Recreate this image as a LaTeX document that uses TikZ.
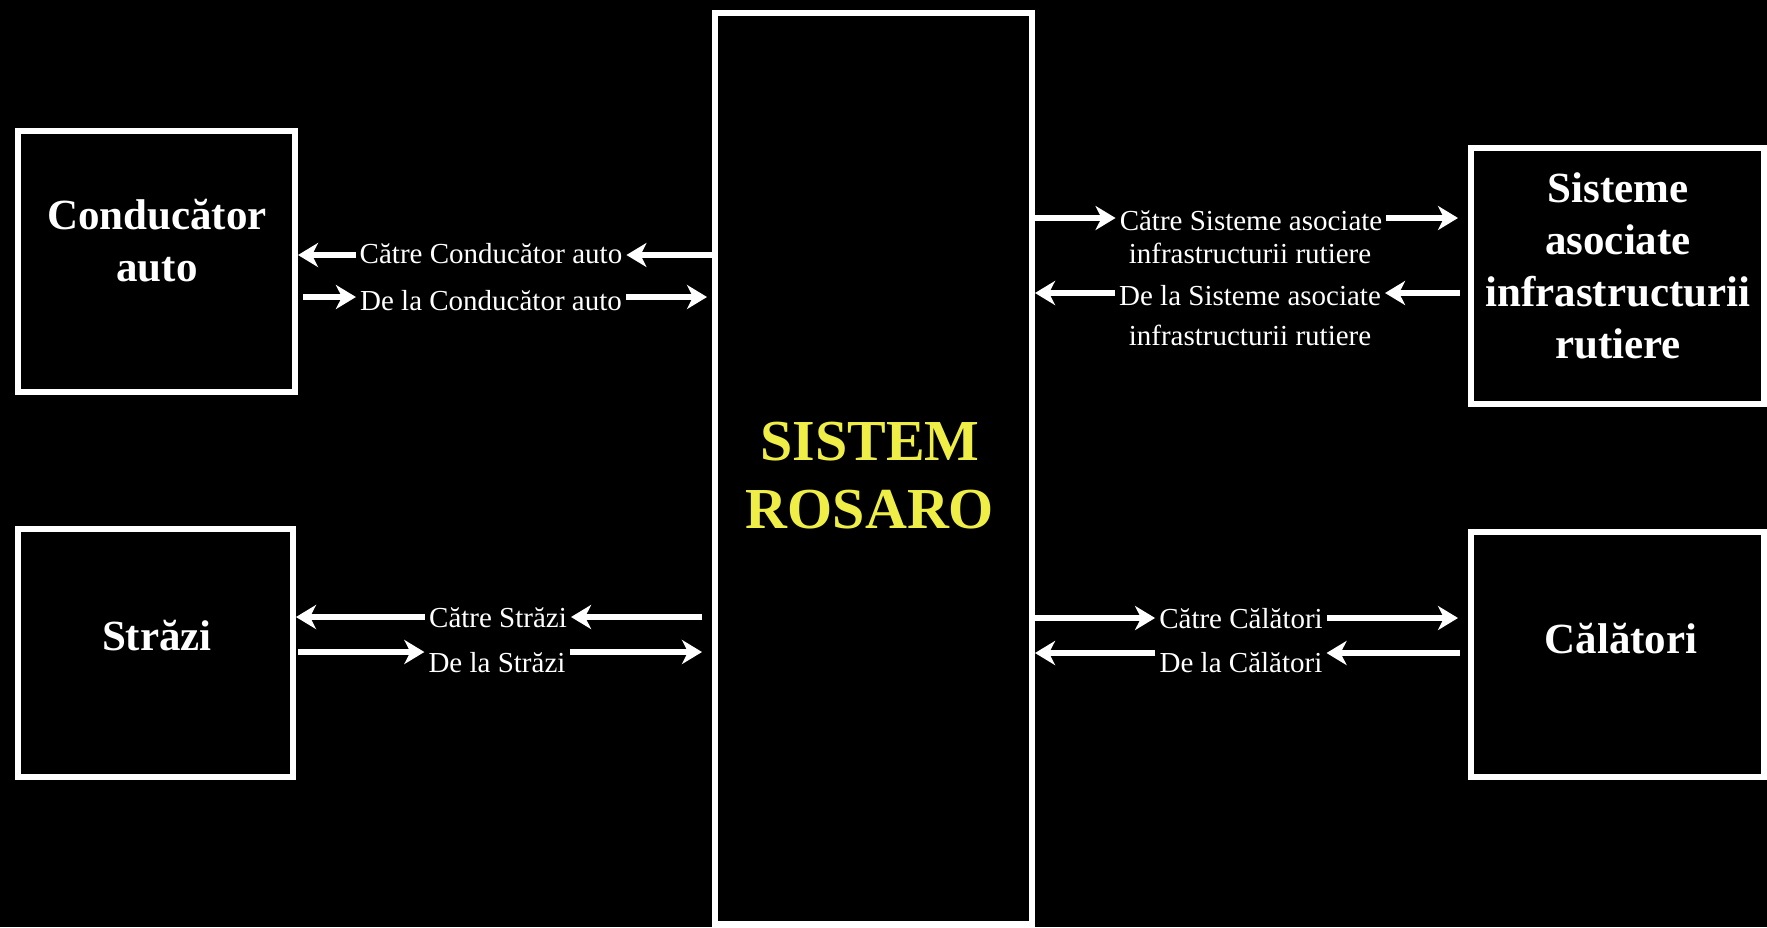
\documentclass[tikz,border=0pt]{standalone}
\usepackage{fontspec}
\setmainfont{Liberation Serif}
\usetikzlibrary{arrows.meta}
\definecolor{rosyellow}{RGB}{238,238,70}
\begin{document}
\begin{tikzpicture}[x=1pt,y=-1pt,
  frame/.style={draw=white,line width=6pt,inner sep=0pt,fill=black},
  bigtext/.style={text=white,font=\fontsize{43}{52}\selectfont\bfseries,align=center,inner sep=0pt},
  flowtext/.style={text=white,font=\fontsize{29}{33}\selectfont,inner xsep=4pt,inner ysep=0pt,anchor=base},
  arr/.style={draw=white,line width=6pt,-{Stealth[length=20pt,width=24pt,inset=6pt]}}]
\fill[black] (0,0) rectangle (1767,927);
\useasboundingbox (0,0) rectangle (1767,927);

% boxes
\node[frame,minimum width=317pt,minimum height=911pt] (sys) at (873.5,468.5) {};
\node[frame,minimum width=277pt,minimum height=261pt] (cond) at (156.5,261.5) {};
\node[frame,minimum width=275pt,minimum height=248pt] (str) at (155.5,653) {};
\node[frame,minimum width=293pt,minimum height=256pt] (sis) at (1617.5,276) {};
\node[frame,minimum width=293pt,minimum height=245pt] (cal) at (1617.5,654.5) {};

% box texts
\node[font=\fontsize{58}{68}\selectfont\bfseries,text=rosyellow,align=center,inner sep=0pt] (syst) at (870,476) {SISTEM\\ROSARO};
\node[bigtext] (condt) at (157,241) {Conducător\\auto};
\node[bigtext,anchor=base] (strt) at (157,650) {Străzi};
\node[bigtext] (sist) at (1618,266) {Sisteme\\asociate\\infrastructurii\\rutiere};
\node[bigtext,anchor=base] (calt) at (1621,653) {Călători};

% flow labels
\node[flowtext] (l1) at (491,263) {Către Conducător auto};
\node[flowtext] (l2) at (491,310) {De la Conducător auto};
\node[flowtext] (l3) at (498,627) {Către Străzi};
\node[flowtext] (l4) at (497,672) {De la Străzi};
\node[flowtext] (r1a) at (1251,230) {Către Sisteme asociate};
\node[flowtext] (r1b) at (1250,263) {infrastructurii rutiere};
\node[flowtext] (r2a) at (1250,305) {De la Sisteme asociate};
\node[flowtext] (r2b) at (1250,345) {infrastructurii rutiere};
\node[flowtext] (r3) at (1241,628) {Către Călători};
\node[flowtext] (r4) at (1241,672) {De la Călători};

% arrow rows
\coordinate (yL1) at (0,255);
\coordinate (yL2) at (0,297);
\coordinate (yL3) at (0,617);
\coordinate (yL4) at (0,652);
\coordinate (yR1) at (0,218);
\coordinate (yR2) at (0,293);
\coordinate (yR3) at (0,618);
\coordinate (yR4) at (0,653);

% left connectors
\draw[arr] (sys.west |- yL1) -- (l1.east |- yL1);
\draw[arr] (l1.west |- yL1) -- (cond.east |- yL1);
\draw[arr,shorten <=5pt] (cond.east |- yL2) -- (l2.west |- yL2);
\draw[arr,shorten >=5pt] (l2.east |- yL2) -- (sys.west |- yL2);
\draw[arr,shorten <=10pt] (sys.west |- yL3) -- (l3.east |- yL3);
\draw[arr] (l3.west |- yL3) -- (str.east |- yL3);
\draw[arr,shorten <=2pt] (str.east |- yL4) -- (l4.west |- yL4);
\draw[arr,shorten >=10pt] (l4.east |- yL4) -- (sys.west |- yL4);

% right connectors
\draw[arr] (sys.east |- yR1) -- (r1a.west |- yR1);
\draw[arr,shorten >=10pt] (r1a.east |- yR1) -- (sis.west |- yR1);
\draw[arr] (r2a.west |- yR2) -- (sys.east |- yR2);
\draw[arr,shorten <=8pt] (sis.west |- yR2) -- (r2a.east |- yR2);
\draw[arr] (sys.east |- yR3) -- (r3.west |- yR3);
\draw[arr,shorten >=10pt] (r3.east |- yR3) -- (cal.west |- yR3);
\draw[arr] (r4.west |- yR4) -- (sys.east |- yR4);
\draw[arr,shorten <=8pt] (cal.west |- yR4) -- (r4.east |- yR4);
\end{tikzpicture}
\end{document}
